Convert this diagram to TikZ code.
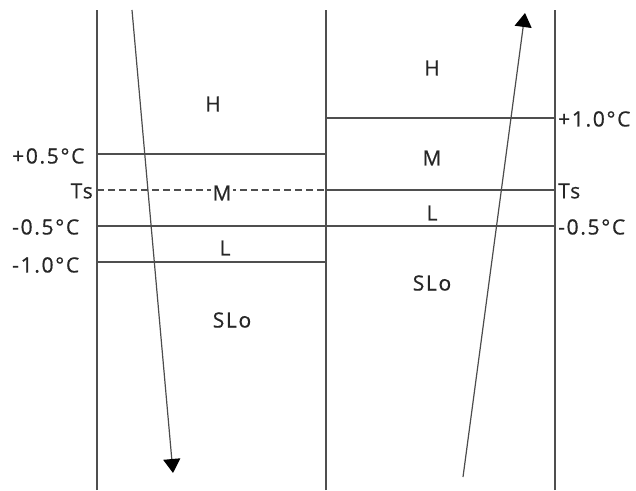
\documentclass[tikz,border=0pt]{standalone}
\usepackage{fontspec}
\setmainfont{Open Sans}
\newfontfamily\lblfont[LetterSpace=8,FakeBold=0.6]{Open Sans}
\usetikzlibrary{arrows.meta}
\definecolor{linegray}{HTML}{4F4F4F}
\definecolor{txtgray}{HTML}{262626}
\tikzset{
  wall/.style={draw=linegray, line width=1.9pt},
  level/.style={draw=linegray, line width=1.7pt},
  sslevel/.style={draw=linegray, line width=1.7pt, dash pattern=on 7pt off 4pt},
  flow/.style={draw=black!70, line width=1.2pt, -{Triangle[width=17pt,length=14pt,color=black]}},
  lbl/.style={inner sep=0pt, text=txtgray, font=\lblfont\fontsize{21}{21}\selectfont},
}
\begin{document}
\begin{tikzpicture}[x=1pt,y=1pt]
\useasboundingbox (0,0) rectangle (636,490);
% verticals
\draw[wall] (97,0) -- (97,480);
\draw[wall] (326,0) -- (326,480);
\draw[wall] (555,0) -- (555,480);
% left column levels
\draw[level] (97,336) -- (326,336);
\draw[sslevel] (97,300) -- (326,300);
\draw[level] (326,300) -- (555,300);
\draw[level] (97,264) -- (555,264);
\draw[level] (97,228) -- (326,228);
% right column level
\draw[level] (326,372) -- (555,372);
% left labels
\node[lbl, anchor=west] (lp05) at (12,334) {+0.5°C};
\node[lbl, anchor=east] (lts) at (93,299) {Ts};
\node[lbl, anchor=west] (lm05) at (12,263) {-0.5°C};
\node[lbl, anchor=west] (lm10) at (12,225) {-1.0°C};
% right labels
\node[lbl, anchor=west] (rp10) at (558,371) {+1.0°C};
\node[lbl, anchor=west] (rts) at (558,299) {Ts};
\node[lbl, anchor=west] (rm05) at (558,263) {-0.5°C};
% zone labels left
\node[lbl] (lH) at (213,386) {H};
\node[lbl, fill=white, inner xsep=2pt] (lM) at (222,297) {M};
\node[lbl] (lL) at (225,242) {L};
\node[lbl] (lS) at (232,170) {SLo};
% zone labels right
\node[lbl] (rH) at (432,422) {H};
\node[lbl] (rM) at (432,332) {M};
\node[lbl] (rL) at (432,277) {L};
\node[lbl] (rS) at (432,207) {SLo};
% arrows
\coordinate (a1s) at (132,480);
\coordinate (a1e) at (173,17);
\coordinate (a2s) at (463,13);
\coordinate (a2e) at (525,477);
\draw[flow] (a1s) -- (a1e);
\draw[flow] (a2s) -- (a2e);
\end{tikzpicture}
\end{document}
